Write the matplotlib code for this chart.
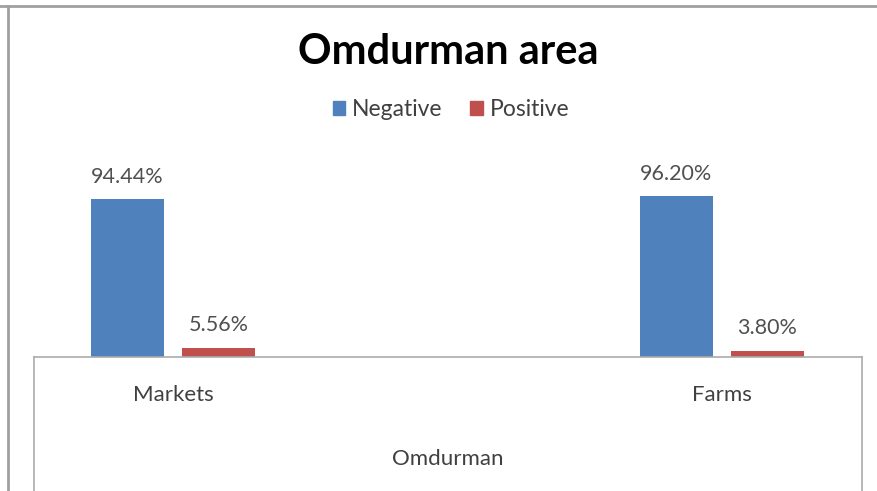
import matplotlib
matplotlib.use('Agg')
import matplotlib.pyplot as plt
from matplotlib.patches import Patch
from matplotlib.lines import Line2D
import numpy as np

# data
categories = ['Markets', 'Farms']
negative = [94.44, 96.20]
positive = [5.56, 3.80]
group_label = 'Omdurman'
title = 'Omdurman area'

blue = '#4F81BD'
red = '#C0504D'
grid_gray = '#ABABAB'

plt.rcParams['font.family'] = ['Lato', 'DejaVu Sans']

W, H = 877, 491
fig = plt.figure(figsize=(W / 100, H / 100), dpi=100)

# outer chart border (top + left only visible)
fig.add_artist(Line2D([0, 1], [1 - 6 / H, 1 - 6 / H], color='#A0A0A0', lw=2))
fig.add_artist(Line2D([8 / W, 8 / W], [0, 1 - 6 / H], color='#A0A0A0', lw=2))

left, right = 34 / W, 862 / W
base = (H - 357) / H
top = (H - 150) / H

ax = fig.add_axes([left, base, right - left, top - base])
x = np.arange(len(categories))
off = 0.0829
bw = 0.133
b1 = ax.bar(x - off, negative, bw, color=blue)
b2 = ax.bar(x + off, positive, bw, color=red)
ax.set_xlim(-0.2532, 1.2550)
ax.set_ylim(0, 207 / 1.673)
for bars, vals in ((b1, negative), (b2, positive)):
    for b, v in zip(bars, vals):
        ax.annotate('%.2f%%' % v, (b.get_x() + b.get_width() / 2, v),
                    xytext=(0, 16), textcoords='offset points',
                    ha='center', va='center', fontsize=15.5, color='#505050')
for s in ax.spines.values():
    s.set_visible(False)
ax.set_xticks([])
ax.set_yticks([])

# category axis box
axl = fig.add_axes([left, 0, right - left, base])
axl.set_xlim(ax.get_xlim())
axl.set_ylim(0, 1)
for s in ['top', 'left', 'right']:
    axl.spines[s].set_color(grid_gray)
    axl.spines[s].set_linewidth(1.2)
axl.spines['bottom'].set_visible(False)
axl.set_xticks([])
axl.set_yticks([])
for xi, c in zip(x, categories):
    axl.text(xi, 0.716, c, ha='center', va='center', fontsize=16, color='#404040')
axl.text(0.5, 0.239, group_label, transform=axl.transAxes, ha='center', va='center',
         fontsize=16, color='#404040')

fig.text(448 / W, 1 - 52 / H, title, ha='center', va='center', fontsize=30,
         fontweight='bold', color='black')

handles = [Patch(color=blue, label='Negative'), Patch(color=red, label='Positive')]
fig.legend(handles=handles, loc='center', bbox_to_anchor=(451 / W, 1 - 110 / H), ncol=2,
           frameon=False, fontsize=16.5, handlelength=0.55, handleheight=0.55,
           handletextpad=0.3, columnspacing=1.2, labelcolor='#404040')

fig.savefig('out.png', dpi=100)
